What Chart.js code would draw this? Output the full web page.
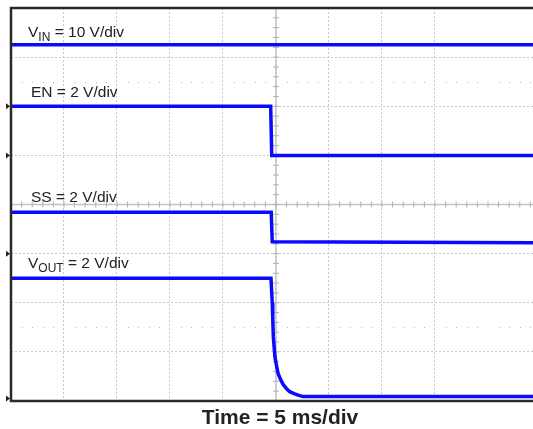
<!DOCTYPE html>
<html>
<head>
<meta charset="utf-8">
<script src="https://cdn.jsdelivr.net/npm/chart.js@4"></script>
<style>
  body { margin: 0; background: #fff; }
  #wrap { position: relative; width: 533px; height: 429px; font-family: "Liberation Sans", Arial, sans-serif; }
  #scope { position: absolute; left: 0; top: 0; }
  .lbl { position: absolute; font-size: 15.5px; line-height: 15px; color: #222; white-space: nowrap; }
  .lbl sub { font-size: 12px; line-height: 0; vertical-align: -0.35em; }
  #titulo { position: absolute; left: 130px; width: 300px; top: 407px; text-align: center;
            font-weight: bold; font-size: 21px; line-height: 20px; color: #222; }
</style>
</head>
<body>
<div id="wrap">
  <canvas id="scope" width="533" height="429"></canvas>
  <div class="lbl" style="left:28px; top:24px;">V<sub>IN</sub> = 10 V/div</div>
  <div class="lbl" style="left:31px; top:84px;">EN = 2 V/div</div>
  <div class="lbl" style="left:31px; top:189px;">SS = 2 V/div</div>
  <div class="lbl" style="left:28px; top:255px;">V<sub>OUT</sub> = 2 V/div</div>
  <div id="titulo">Time = 5 ms/div</div>
</div>
<script>
// Tiempo en ms (5 ms/div), niveles en divisiones (8 div en vertical)
const vinTiempo = [0, 49.25];
const vinNivel = [7.25, 7.25];

const enTiempo = [0, 24.5, 24.6, 49.25];
const enNivel = [6.0, 6.0, 5.0, 5.0];

const ssTiempo = [0, 24.55, 24.65, 49.25];
const ssNivel = [3.84, 3.84, 3.24, 3.22];

const voutTiempo = [0, 24.53, 24.65, 24.7, 24.75, 24.9, 25.05, 25.2, 25.45, 25.7, 26.0, 26.3, 26.7, 27.1, 27.55, 49.25];
const voutNivel = [2.5, 2.5, 1.99, 1.65, 1.31, 0.9, 0.72, 0.56, 0.43, 0.33, 0.25, 0.19, 0.15, 0.12, 0.09, 0.09];

// Marcas de referencia de cada canal (lado izquierdo)
const marcasCanal = [6.0, 5.0, 3.0, 0.05];

const azul = '#0a0aff';

const puntos = (t, v) => t.map((x, i) => ({ x: x, y: v[i] }));

const crearTraza = (t, v) => ({
    data: puntos(t, v),
    borderColor: azul,
    borderWidth: 3.5,
    pointRadius: 0,
    tension: 0,
    fill: false
});

// Marco, cruz central con marcas, filas de puntos y flechas de canal
const decoracion = {
    id: 'decoracion',
    beforeDatasetsDraw(chart) {
        const ctx = chart.ctx;
        const a = chart.chartArea;
        const sx = chart.scales.x, sy = chart.scales.y;
        ctx.save();
        // cruz central
        const cx = sx.getPixelForValue(25), cy = sy.getPixelForValue(4);
        ctx.strokeStyle = '#c4c4c4';
        ctx.lineWidth = 1.5;
        ctx.beginPath();
        ctx.moveTo(cx, a.top); ctx.lineTo(cx, a.bottom);
        ctx.moveTo(a.left, cy); ctx.lineTo(a.right, cy);
        ctx.stroke();
        ctx.lineWidth = 1;
        ctx.strokeStyle = '#b0b0b0';
        ctx.beginPath();
        for (let t = 1; t < 50; t++) {
            const px = sx.getPixelForValue(t);
            if (px > a.right) break;
            ctx.moveTo(px, cy - 3); ctx.lineTo(px, cy + 3);
        }
        for (let v = 0.2; v < 8; v += 0.2) {
            const py = sy.getPixelForValue(v);
            ctx.moveTo(cx - 3, py); ctx.lineTo(cx + 3, py);
        }
        ctx.stroke();
        // filas de puntos a media división
        ctx.fillStyle = '#b8b8b8';
        [6.5, 1.5].forEach(v => {
            const py = sy.getPixelForValue(v);
            for (let t = 1; t < 50; t++) {
                if (t % 5 === 0) continue;
                const px = sx.getPixelForValue(t);
                if (px > a.right) break;
                ctx.fillRect(Math.round(px), Math.round(py), 1, 1);
            }
        });
        ctx.restore();
    },
    afterDatasetsDraw(chart) {
        const ctx = chart.ctx;
        const a = chart.chartArea;
        const sy = chart.scales.y;
        ctx.save();
        ctx.strokeStyle = '#2a2a2a';
        ctx.lineWidth = 2.5;
        ctx.beginPath();
        ctx.moveTo(a.right + 2, a.top);
        ctx.lineTo(a.left, a.top);
        ctx.lineTo(a.left, a.bottom);
        ctx.lineTo(a.right + 2, a.bottom);
        ctx.stroke();
        ctx.fillStyle = '#222';
        marcasCanal.forEach(v => {
            const py = sy.getPixelForValue(v);
            ctx.beginPath();
            ctx.moveTo(a.left - 5, py - 3);
            ctx.lineTo(a.left - 1, py);
            ctx.lineTo(a.left - 5, py + 3);
            ctx.closePath();
            ctx.fill();
        });
        ctx.restore();
    }
};

new Chart(document.getElementById('scope'), {
    type: 'line',
    data: {
        datasets: [
            crearTraza(vinTiempo, vinNivel),
            crearTraza(enTiempo, enNivel),
            crearTraza(ssTiempo, ssNivel),
            crearTraza(voutTiempo, voutNivel)
        ]
    },
    options: {
        responsive: false,
        animation: false,
        devicePixelRatio: 1,
        layout: { padding: { left: 11, top: 8, right: 0, bottom: 28 } },
        plugins: { legend: { display: false }, tooltip: { enabled: false } },
        scales: {
            x: {
                type: 'linear', min: 0, max: 49.25,
                ticks: { display: false, stepSize: 5 },
                grid: { color: '#c8c8c8', lineWidth: 1, drawTicks: false },
                border: { display: false, dash: [2, 2] }
            },
            y: {
                min: 0, max: 8,
                ticks: { display: false, stepSize: 1 },
                grid: { color: '#c8c8c8', lineWidth: 1, drawTicks: false },
                border: { display: false, dash: [2, 2] }
            }
        }
    },
    plugins: [decoracion]
});
</script>
</body>
</html>
